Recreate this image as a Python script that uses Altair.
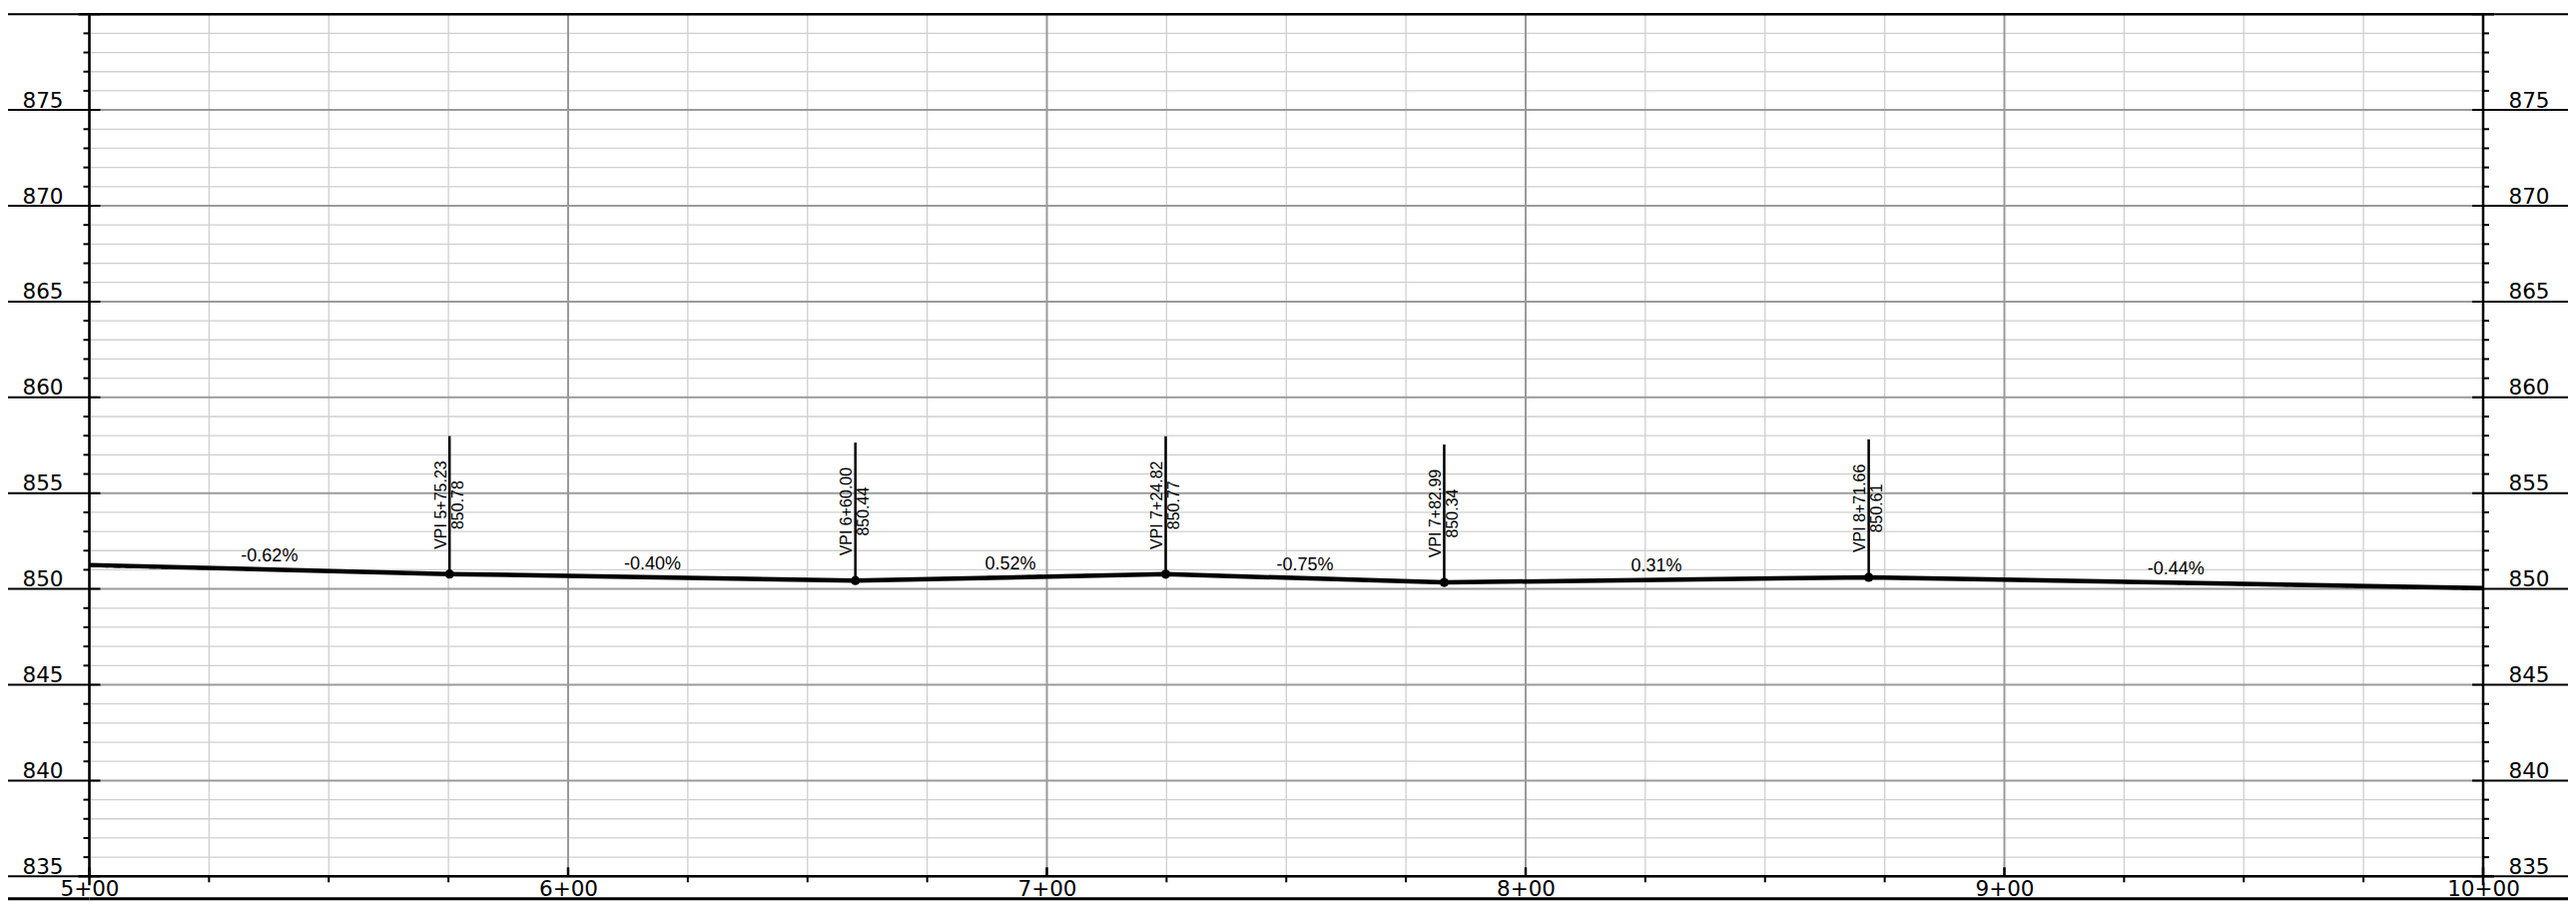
import altair as alt
import pandas as pd

# ---------------- data ----------------
prof_sta = [500.0, 575.23, 660.00, 724.82, 782.99, 871.66, 1000.0]
prof_elev = [851.25, 850.78, 850.44, 850.77, 850.34, 850.61, 850.05]

vpi_sta = [575.23, 660.00, 724.82, 782.99, 871.66]
vpi_elev = [850.78, 850.44, 850.77, 850.34, 850.61]
vpi_sta_text = ["VPI 5+75.23", "VPI 6+60.00", "VPI 7+24.82", "VPI 7+82.99", "VPI 8+71.66"]
vpi_elev_text = ["850.78", "850.44", "850.77", "850.34", "850.61"]
vpi_leader = 7.2  # leader line height (ft) above each VPI

grade_text = ["-0.62%", "-0.40%", "0.52%", "-0.75%", "0.31%", "-0.44%"]

eg_sta = [500, 540, 575.23, 620, 660, 700, 724.82, 760, 782.99, 830, 871.66, 930, 1000]
eg_elev = [851.18, 850.97, 850.76, 850.58, 850.46, 850.69, 850.80, 850.52, 850.33,
           850.47, 850.59, 850.31, 849.99]

x_major_vals = list(range(500, 1001, 100))
x_minor_vals = [s for s in range(500, 1001, 25) if s % 100 != 0]
y_major_vals = list(range(835, 881, 5))
y_minor_vals = [v for v in range(835, 881) if v % 5 != 0]
y_label_vals = list(range(835, 880, 5))

# ---------------- geometry ----------------
W, H = 2397.5, 863.1
LEFT_EXT, RIGHT_EXT = 89.5, 93.0

xs = alt.Scale(domain=[500, 1000], nice=False, zero=False)
ys = alt.Scale(domain=[835, 880], nice=False, zero=False)


def X(f="x", axis=None):
    return alt.X(f"{f}:Q", scale=xs, axis=axis)


def Y(f="y", axis=None):
    return alt.Y(f"{f}:Q", scale=ys, axis=axis)


AXFONT = "DejaVu Sans"
TXFONT = "Liberation Sans"

df_xmaj = pd.DataFrame({"x": x_major_vals})
df_xmin = pd.DataFrame({"x": x_minor_vals})
df_ymaj = pd.DataFrame({"y": y_major_vals})
df_ymin = pd.DataFrame({"y": y_minor_vals})
df_one = pd.DataFrame({"x": [500], "x2": [1000], "y": [880], "yb": [835]})

# gridlines
g_vmin = alt.Chart(df_xmin).mark_rule(color="#cfcfcf", strokeWidth=1.3).encode(
    x=X(), y=alt.value(0), y2=alt.value(H))
g_vmaj = alt.Chart(df_xmaj).mark_rule(color="#9a9a9a", strokeWidth=2).encode(
    x=X(), y=alt.value(0), y2=alt.value(H))
g_hmin = alt.Chart(df_ymin).mark_rule(color="#cfcfcf", strokeWidth=1.3).encode(
    y=Y(), x=alt.value(0), x2=alt.value(W))
g_hmaj = alt.Chart(df_ymaj).mark_rule(color="#9a9a9a", strokeWidth=2).encode(
    y=Y(), x=alt.value(0), x2=alt.value(W))

# frame
top_gray = alt.Chart(df_one).mark_rule(color="#9a9a9a", strokeWidth=1.5).encode(
    y=Y("y"), x=alt.value(-LEFT_EXT), x2=alt.value(W + RIGHT_EXT))
top_black = alt.Chart(df_one).mark_rule(color="black", strokeWidth=2.5).encode(
    y=Y("y"), x=alt.value(-11), x2=alt.value(W + 11))
left_line = alt.Chart(df_one).mark_rule(color="black", strokeWidth=2.5).encode(
    x=X("x"), y=Y("y"), y2=alt.value(H + 9))
right_line = alt.Chart(df_one).mark_rule(color="black", strokeWidth=2.5).encode(
    x=X("x2"), y=Y("y"), y2=alt.value(H + 9))
bottom_line = alt.Chart(df_one).mark_rule(color="black", strokeWidth=2.5).encode(
    y=Y("yb"), x=alt.value(-11), x2=alt.value(W + 11))
# sheet base line under the station labels, drawn in three pieces
base_mid = alt.Chart(df_one).mark_rule(color="#000000", strokeWidth=3, yOffset=22.5).encode(
    y=Y("yb"), x=X("x"), x2="x2:Q")
base_left = alt.Chart(df_one).mark_rule(color="#000000", strokeWidth=3, yOffset=22.5).encode(
    y=Y("yb"), x=alt.value(-LEFT_EXT), x2=alt.value(0))
base_right = alt.Chart(df_one).mark_rule(color="#000000", strokeWidth=3, yOffset=22.5).encode(
    y=Y("yb"), x=alt.value(W), x2=alt.value(W + RIGHT_EXT))

left_axis = alt.Axis(orient="left", values=y_label_vals, ticks=False, tickSize=0,
                     domain=False, grid=False, labelFont=AXFONT, labelFontSize=21.5,
                     labelColor="black", labelPadding=26.5, labelBaseline="alphabetic",
                     labelOffset=-3, labelAlign="right", labelOverlap=False,
                     labelFlush=False, title=None)
right_axis = alt.Axis(orient="right", values=y_label_vals, ticks=False, tickSize=0,
                      domain=False, grid=False, labelFont=AXFONT, labelFontSize=21.5,
                      labelColor="black", labelPadding=25, labelBaseline="alphabetic",
                      labelOffset=-3, labelAlign="left", labelOverlap=False,
                      labelFlush=False, title=None)
bottom_axis = alt.Axis(orient="bottom", values=x_major_vals, ticks=False, tickSize=0,
                       domain=False, grid=False, labelFont=AXFONT, labelFontSize=21.5,
                       labelColor="black", labelPadding=19.5, labelBaseline="alphabetic",
                       labelAlign="center", labelOverlap=False, labelFlush=False,
                       labelExpr="floor(datum.value/100) + '+00'", title=None)

# ticks
lt_major = alt.Chart(df_ymaj).mark_rule(color="black", strokeWidth=2).encode(
    y=Y("y", axis=left_axis), x=alt.value(-LEFT_EXT), x2=alt.value(11))
rt_major = alt.Chart(df_ymaj).mark_rule(color="black", strokeWidth=2).encode(
    y=Y("y", axis=right_axis), x=alt.value(W - 11), x2=alt.value(W + RIGHT_EXT))
lt_minor = alt.Chart(df_ymin).mark_rule(color="black", strokeWidth=2).encode(
    y=Y(), x=alt.value(-6), x2=alt.value(0))
rt_minor = alt.Chart(df_ymin).mark_rule(color="black", strokeWidth=2).encode(
    y=Y(), x=alt.value(W), x2=alt.value(W + 6))
bt_major = alt.Chart(df_xmaj).mark_rule(color="black", strokeWidth=2.5).encode(
    x=X("x", axis=bottom_axis), y=alt.value(H - 9), y2=alt.value(H))
bt_minor = alt.Chart(df_xmin).mark_rule(color="black", strokeWidth=2).encode(
    x=X(), y=alt.value(H), y2=alt.value(H + 6))

# profile data
df_prof = pd.DataFrame({"x": prof_sta, "y": prof_elev})
df_eg = pd.DataFrame({"x": eg_sta, "y": eg_elev})
df_vpi = pd.DataFrame({"x": vpi_sta, "y": vpi_elev})
df_vpi["top"] = df_vpi["y"] + vpi_leader
df_vpi["mid"] = (df_vpi["y"] + df_vpi["top"]) / 2
df_vpi["label"] = [a + "\n" + b for a, b in zip(vpi_sta_text, vpi_elev_text)]
df_grade = pd.DataFrame({
    "x": [(prof_sta[i] + prof_sta[i + 1]) / 2 for i in range(len(prof_sta) - 1)],
    "y": [(prof_elev[i] + prof_elev[i + 1]) / 2 for i in range(len(prof_elev) - 1)],
    "t": grade_text,
})

eg_line = alt.Chart(df_eg).mark_line(color="black", strokeWidth=1.8,
                                     strokeDash=[7, 5]).encode(x=X(), y=Y(), order="x:Q")
prof_line = alt.Chart(df_prof).mark_line(color="black", strokeWidth=4.5).encode(
    x=X(), y=Y(), order="x:Q")
vpi_rules = alt.Chart(df_vpi).mark_rule(color="black", strokeWidth=2.5).encode(
    x=X(), y=Y(), y2="top:Q")
vpi_pts = alt.Chart(df_vpi).mark_point(shape="circle", filled=True, size=85,
                                       color="black", opacity=1).encode(x=X(), y=Y())
vpi_txt = alt.Chart(df_vpi).mark_text(angle=270, align="center", baseline="middle",
                                      lineBreak="\n", fontSize=16, font=TXFONT,
                                      lineHeight=17, dy=-8.5, color="black").encode(
    x=X(), y=Y("mid"), text="label:N")
grade_txt = alt.Chart(df_grade).mark_text(align="center", baseline="alphabetic", dy=-8,
                                          fontSize=18, font=TXFONT, color="black").encode(
    x=X(), y=Y(), text="t:N")

chart = alt.layer(
    g_vmin, g_hmin, g_vmaj, g_hmaj,
    top_gray, lt_major, rt_major, lt_minor, rt_minor, bt_major, bt_minor,
    eg_line, prof_line, vpi_rules, vpi_pts, vpi_txt, grade_txt,
    top_black, left_line, right_line, bottom_line, base_mid, base_left, base_right,
).resolve_axis(y="independent", x="independent").properties(
    width=W, height=H,
    autosize=alt.AutoSizeParams(type="none"),
    padding={"left": 81.5, "top": 6.2, "right": 85, "bottom": 30.2},
    background="white",
).configure_view(stroke=None)

chart.save("out.html", embed_options={"renderer": "svg", "actions": False})
